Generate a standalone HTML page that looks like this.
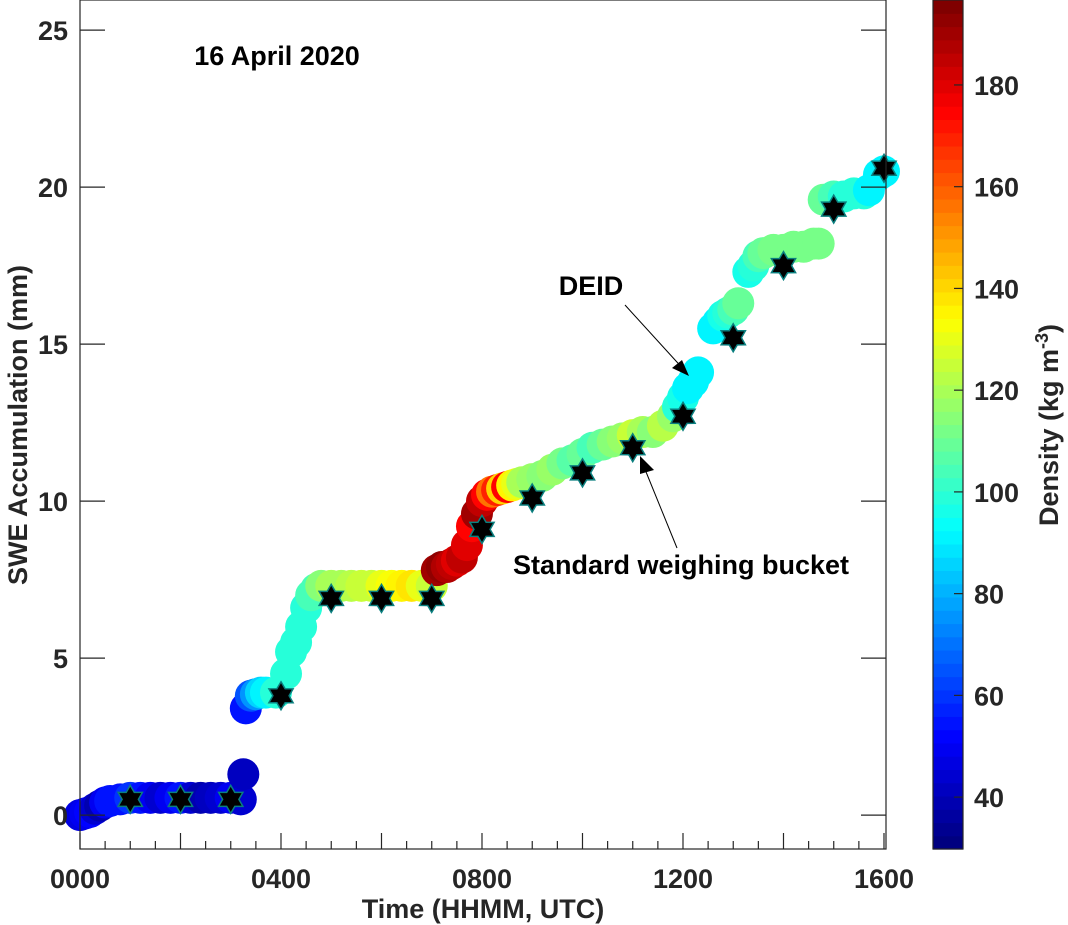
<!DOCTYPE html>
<html><head><meta charset="utf-8"><style>
body{margin:0;background:#fff;}
svg{display:block;font-family:"Liberation Sans",Arial,sans-serif;font-weight:bold;}
</style></head><body>
<svg id="chart" width="1068" height="925" viewBox="0 0 1068 925">
<rect x="0" y="0" width="1068" height="925" fill="#fff"/>
<g id="points"></g>
<g id="stars"></g>
<rect x="80" y="0" width="806" height="849" fill="none" stroke="#262626" stroke-width="1.2"/>
<g id="axes"></g>
<text x="277" y="65" font-size="27" text-anchor="middle" fill="#000">16 April 2020</text>
<text x="591" y="295" font-size="27" text-anchor="middle" fill="#000">DEID</text>
<line x1="625" y1="305" x2="686" y2="372" stroke="#000" stroke-width="1"/>
<polygon points="689,376 672,368 682,360" fill="#000"/>
<text x="681" y="574" font-size="27" text-anchor="middle" fill="#000">Standard weighing bucket</text>
<line x1="677" y1="548" x2="642" y2="462" stroke="#000" stroke-width="1"/>
<polygon points="640,456 654,470 640,474" fill="#000"/>
<text transform="translate(27,425) rotate(-90)" font-size="27" text-anchor="middle" fill="#262626">SWE Accumulation (mm)</text>
<text x="483" y="918" font-size="27" text-anchor="middle" fill="#262626">Time (HHMM, UTC)</text>
<g id="cbar"></g>
<text transform="translate(1058,425) rotate(-90)" font-size="27" text-anchor="middle" fill="#262626">Density (kg m<tspan dy="-10" font-size="18">-3</tspan><tspan dy="10">)</tspan></text>
</svg>
<script>
const times = [0,0.1,0.2,0.3,0.4,0.5,0.6,0.8,1.0,1.2,1.4,1.6,1.8,2.0,2.2,2.4,2.6,2.8,3.0,3.2,
3.25,3.3,3.4,3.5,3.6,3.7,
3.9,4.1,4.2,4.3,4.4,4.5,4.6,4.7,
4.8,5.0,5.2,5.4,5.6,5.8,6.0,6.2,6.4,6.6,6.8,7.0,
7.1,7.2,7.3,7.4,7.5,7.6,7.7,7.8,7.9,8.0,8.1,
8.2,8.3,8.4,8.5,8.6,8.7,
8.8,9.0,9.2,9.4,9.6,9.8,10.0,10.2,10.4,10.6,10.8,11.0,11.2,11.4,11.6,11.8,
11.9,12.0,12.1,12.2,12.3,
12.6,12.7,12.8,12.9,13.0,13.1,
13.3,13.4,13.5,13.6,13.8,14.0,14.2,14.4,14.6,14.7,
14.8,15.0,15.2,15.4,15.6,
15.7,15.9,16.0];
const swe = [0,0.05,0.1,0.2,0.3,0.4,0.45,0.5,0.55,0.55,0.55,0.55,0.55,0.55,0.55,0.55,0.55,0.55,0.55,0.5,
1.3,3.4,3.8,3.85,3.9,3.9,
3.9,4.5,5.2,5.5,6.0,6.6,7.0,7.2,
7.3,7.3,7.3,7.3,7.3,7.3,7.3,7.3,7.3,7.3,7.3,7.3,
7.8,7.9,7.9,8.0,8.1,8.2,8.6,9.2,9.6,10.0,10.2,
10.3,10.35,10.4,10.45,10.5,10.55,
10.6,10.7,10.8,11.0,11.2,11.3,11.5,11.7,11.8,11.9,12.0,12.1,12.2,12.2,12.4,12.7,
13.0,13.3,13.6,13.8,14.1,
15.5,15.7,15.9,16.0,16.1,16.3,
17.3,17.5,17.8,17.9,18.0,18.0,18.1,18.1,18.2,18.2,
19.6,19.7,19.7,19.8,19.8,
19.9,20.4,20.5];
const density = [48,50,52,45,40,50,55,55,60,55,50,45,50,55,45,40,42,45,50,45,
42,55,65,75,85,90,
100,100,100,100,100,100,103,105,
115,120,120,122,125,125,130,132,135,138,130,125,
190,192,188,185,180,185,180,175,190,185,175,
155,170,140,175,135,130,
120,118,115,118,112,108,110,105,110,115,118,125,120,115,122,118,
100,95,92,90,90,
90,92,95,100,105,110,
95,100,105,110,112,112,112,112,112,112,
110,105,100,100,98,
92,90,92];
const starTimes = [1,2,3,4,5,6,7,8,9,10,11,12,13,14,15,16];
const starSwe = [0.5,0.5,0.5,3.8,6.9,6.9,6.9,9.1,10.1,10.9,11.7,12.7,15.2,17.5,19.3,20.6];
const xTickLabels = ["0000","0400","0800","1200","1600"];
const yTicks = [0,5,10,15,20,25];
const cTicks = [40,60,80,100,120,140,160,180];

const NS="http://www.w3.org/2000/svg";
const X0=80,X1=886,Y0=0,Y1=849;
const xMin=0,xMax=16.04,yMin=-1.08,yMax=25.96;
const cMin=29.8,cMax=196.7;
function xs(h){return X0+(h-xMin)/(xMax-xMin)*(X1-X0);}
function ys(v){return Y1-(v-yMin)/(yMax-yMin)*(Y1-Y0);}
function cl(v){return Math.max(0,Math.min(1,v));}
function jet(t){t=cl(t);const r=cl(1.5-Math.abs(4*t-3)),g=cl(1.5-Math.abs(4*t-2)),b=cl(1.5-Math.abs(4*t-1));
return `rgb(${Math.round(r*255)},${Math.round(g*255)},${Math.round(b*255)})`;}
function dcol(d){const t=(d-cMin)/(cMax-cMin);return jet(Math.floor(t*64)/63);}
function mk(tag,attrs,parent){const e=document.createElementNS(NS,tag);for(const k in attrs)e.setAttribute(k,attrs[k]);parent.appendChild(e);return e;}

const pg=document.getElementById('points');
for(let i=0;i<times.length;i++){
  const c=mk('circle',{cx:xs(times[i]),cy:ys(swe[i]),r:16,fill:dcol(density[i])},pg);
  
  
}
const sg=document.getElementById('stars');
function hexPts(cx,cy,R){const r=R*0.58;let p=[];for(let k=0;k<12;k++){const a=-Math.PI/2+k*Math.PI/6;const rr=k%2?r:R;p.push((cx+rr*Math.cos(a)).toFixed(1)+','+(cy+rr*Math.sin(a)).toFixed(1));}return p.join(' ');}
for(let i=0;i<starTimes.length;i++){
  const s=mk('polygon',{points:hexPts(xs(starTimes[i]),ys(starSwe[i]),14),fill:'#000',stroke:'#0a7f7f','stroke-width':1.5},sg);
  
  
}
const ag=document.getElementById('axes');
yTicks.forEach(v=>{
  const y=ys(v);
  const l1=mk('line',{x1:X0,y1:y,x2:X0+25,y2:y,stroke:'#262626','stroke-width':1.2},ag);
  
  
  const l2=mk('line',{x1:X1-25,y1:y,x2:X1,y2:y,stroke:'#262626','stroke-width':1.2},ag);
  
  
  const t=mk('text',{x:X0-12,y:y+10,'font-size':27,'text-anchor':'end',fill:'#262626'},ag);
  t.textContent=v;
  
  
});
for(let h=0;h<=16;h+=0.5){
  const major=Math.abs(h%2)<1e-9;
  const x=xs(h);
  const l=mk('line',{x1:x,y1:Y1,x2:x,y2:Y1-(major?16:8),stroke:'#262626','stroke-width':1.2},ag);
  
  
}
xTickLabels.forEach((lab,i)=>{
  const t=mk('text',{x:xs(i*4),y:888,'font-size':27,'text-anchor':'middle',fill:'#262626'},ag);
  t.textContent=lab;
  
  
});
const cg=document.getElementById('cbar');
const CX=933,CW=30;
for(let k=0;k<64;k++){
  const y1=Y1-(k+1)*(Y1-Y0)/64, hgt=(Y1-Y0)/64+0.6;
  const r=mk('rect',{x:CX,y:y1,width:CW,height:hgt,fill:jet(k/63)},cg);
  
  
}
const fr=mk('rect',{x:CX,y:Y0,width:CW,height:Y1-Y0,fill:'none',stroke:'#262626','stroke-width':1.2},cg);


cTicks.forEach(v=>{
  const y=Y1-(v-cMin)/(cMax-cMin)*(Y1-Y0);
  const l=mk('line',{x1:CX+CW-9,y1:y,x2:CX+CW,y2:y,stroke:'#262626','stroke-width':1.2},cg);
  
  
  const t=mk('text',{x:974,y:y+10,'font-size':27,fill:'#262626'},cg);
  t.textContent=v;
  
  
});
</script>
</body></html>
